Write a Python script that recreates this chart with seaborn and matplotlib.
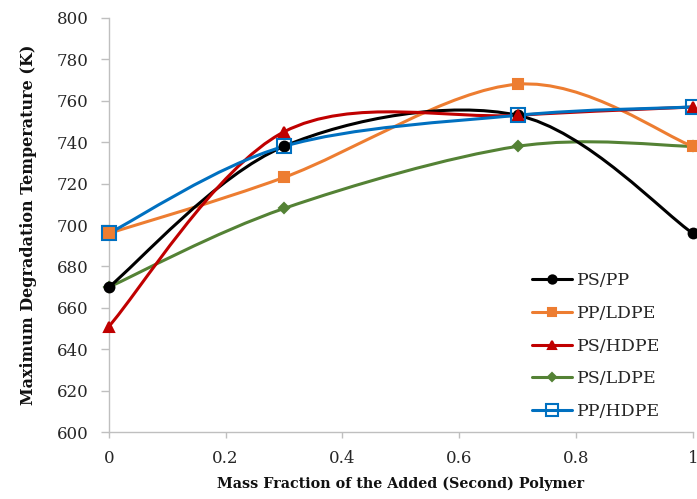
import matplotlib
matplotlib.use("Agg")
import matplotlib.pyplot as plt
import numpy as np
import pandas as pd
import seaborn as sns
from matplotlib.path import Path
from matplotlib.patches import PathPatch
from matplotlib.lines import Line2D

# data
mass_fraction = [0, 0.3, 0.7, 1]
ps_pp = [670, 738, 753, 696]
pp_ldpe = [696, 723, 768, 738]
ps_hdpe = [651, 745, 753, 757]
ps_ldpe = [670, 708, 738, 738]
pp_hdpe = [696, 738, 753, 757]

series_names = ["PS/PP", "PP/LDPE", "PS/HDPE", "PS/LDPE", "PP/HDPE"]
series_values = [ps_pp, pp_ldpe, ps_hdpe, ps_ldpe, pp_hdpe]

STYLES = {
    "PS/PP": dict(color="#000000", marker="o", ms=7, mfc="#000000"),
    "PP/LDPE": dict(color="#ED7D31", marker="s", ms=7, mfc="#ED7D31"),
    "PS/HDPE": dict(color="#C00000", marker="^", ms=7.5, mfc="#C00000"),
    "PS/LDPE": dict(color="#548235", marker="D", ms=5, mfc="#548235"),
    "PP/HDPE": dict(color="#0070C0", marker="s", ms=10, mfc="none"),
}
ORDER = ["PS/LDPE", "PP/LDPE", "PS/PP", "PS/HDPE", "PP/HDPE"]


def smooth_path(xs, ys):
    # Excel-like smoothed line: cubic bezier through the points
    pts = np.column_stack([xs, ys]).astype(float)
    n = len(pts)
    verts = [pts[0]]
    codes = [Path.MOVETO]
    for i in range(n - 1):
        p0 = pts[i - 1] if i > 0 else pts[i]
        p1, p2 = pts[i], pts[i + 1]
        p3 = pts[i + 2] if i + 2 < n else pts[i + 1]
        verts += [p1 + (p2 - p0) / 6, p2 - (p3 - p1) / 6, p2]
        codes += [Path.CURVE4] * 3
    return Path(verts, codes)


sns.set_theme(style="white")
plt.rcParams["font.family"] = ["DejaVu Serif"]

df = pd.DataFrame(
    [
        {"x": x, "y": y, "blend": name}
        for name, vals in zip(series_names, series_values)
        for x, y in zip(mass_fraction, vals)
    ]
)

fig = plt.figure(figsize=(6.97, 4.99), dpi=100)
ax = fig.add_axes([0.156, 0.134, 0.838, 0.83])

for name in ORDER:
    st = STYLES[name]
    sub = df[df["blend"] == name]
    patch = PathPatch(smooth_path(sub["x"], sub["y"]), facecolor="none",
                      edgecolor=st["color"], lw=2.2, zorder=2)
    ax.add_patch(patch)
    sns.lineplot(data=sub, x="x", y="y", ax=ax, linestyle="none",
                 marker=st["marker"], markersize=st["ms"],
                 markerfacecolor=st["mfc"], markeredgecolor=st["color"],
                 markeredgewidth=1.5, color=st["color"], zorder=3,
                 legend=False, estimator=None, clip_on=False)

ax.set_xlim(0, 1)
ax.set_ylim(600, 800)
ax.set_xticks([0, 0.2, 0.4, 0.6, 0.8, 1])
ax.set_xticklabels(["0", "0.2", "0.4", "0.6", "0.8", "1"])
ax.set_yticks(np.arange(600, 801, 20))
ax.tick_params(axis="both", labelsize=12, colors="#262626", width=1,
               direction="out", color="#BFBFBF", bottom=True, left=True)
ax.tick_params(axis="x", length=4, pad=9)
ax.tick_params(axis="y", length=5.5, pad=9)
ax.grid(False)
for side in ["top", "right"]:
    ax.spines[side].set_visible(False)
for side in ["left", "bottom"]:
    ax.spines[side].set_color("#BFBFBF")
    ax.spines[side].set_linewidth(1)

ax.set_xlabel("Mass Fraction of the Added (Second) Polymer", fontsize=10.3,
              fontweight="bold", labelpad=7, color="#111111")
ax.set_ylabel("Maximum Degradation Temperature (K)", fontsize=11.5,
              fontweight="bold", labelpad=14, color="#111111")

handles = []
for name in series_names:
    st = STYLES[name]
    handles.append(Line2D([], [], color=st["color"], lw=2.2, marker=st["marker"],
                          markersize=st["ms"] * 0.85, markerfacecolor=st["mfc"],
                          markeredgecolor=st["color"], markeredgewidth=1.5))
ax.legend(handles, series_names, loc="lower right", bbox_to_anchor=(0.965, 0.0),
          frameon=False, fontsize=12.5, handlelength=2.3, labelspacing=0.9,
          handletextpad=0.3, borderaxespad=0.3)

fig.savefig("out.png", dpi=100)
